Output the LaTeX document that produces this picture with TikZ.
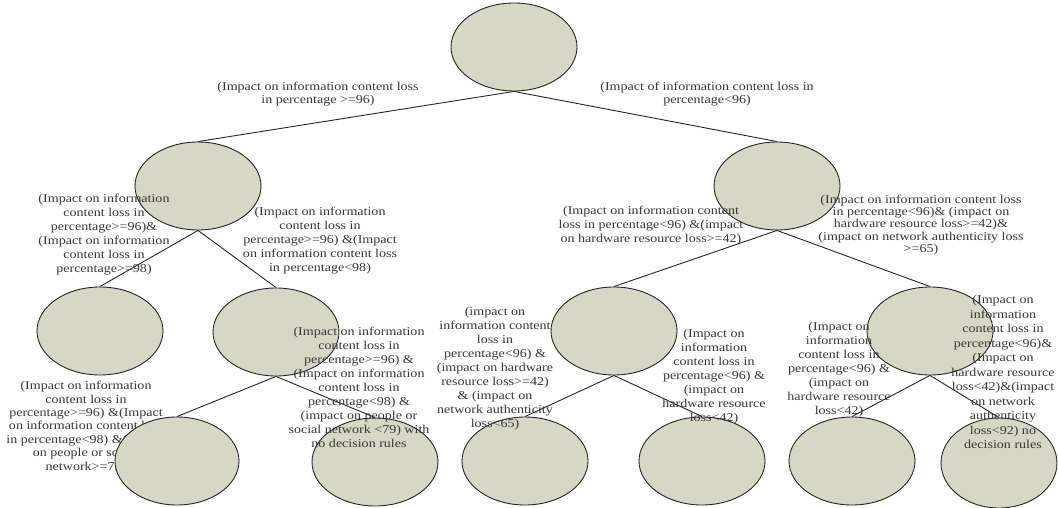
\documentclass[tikz,border=0pt]{standalone}
\usepackage{fontspec}
\setmainfont{Liberation Serif}[FakeStretch=1.17]
\usetikzlibrary{shapes.geometric}
\definecolor{efill}{RGB}{215,215,197}
\definecolor{txt}{RGB}{55,55,55}
\tikzset{
  leaf/.style={ellipse, draw=black!85, line width=0.9pt, fill=efill, minimum width=126pt, minimum height=88pt, inner sep=0pt},
  lbl/.style={align=center, text=txt, font=\fontsize{12}{14}\selectfont, inner sep=0pt},
  lbltight/.style={lbl, font=\fontsize{12}{12.8}\selectfont},
  edge/.style={draw=black!85, line width=0.9pt}
}
\begin{document}
\begin{tikzpicture}[x=1pt,y=-1pt]
\useasboundingbox (0,0) rectangle (1058,508);
% label partly hidden behind an ellipse
\node[lbl, font=\fontsize{12}{13.4}\selectfont] (t7) at (86,427) {(Impact on information\\content loss in\\percentage>=96) \&(Impact\\on information content loss\\in percentage<98) \&(impact\\on people or social\\network>=79)};
% ellipses
\node[leaf] (root) at (514,47) {};
\node[leaf] (a) at (198,186) {};
\node[leaf] (b) at (777,186) {};
\node[leaf] (aa) at (100,331) {};
\node[leaf] (ab) at (276,332) {};
\node[leaf] (ba) at (614,331) {};
\node[leaf] (bb) at (930,331) {};
\node[leaf, minimum width=124pt] (aba) at (177,461) {};
\node[leaf] (abb) at (375,462) {};
\node[leaf] (baa) at (525,461) {};
\node[leaf] (bab) at (702,461) {};
\node[leaf] (bba) at (852,461) {};
\node[leaf, minimum width=116pt, minimum height=90pt] (bbb) at (999,463) {};
% connectors
\draw[edge] (root.south) -- (a.north);
\draw[edge] (root.south) -- (b.north);
\draw[edge] (a.south) -- (aa.north);
\draw[edge] (a.south) -- (ab.north);
\draw[edge] (ab.south) -- (aba.north);
\draw[edge] (ab.south) -- (abb.north);
\draw[edge] (b.south) -- (ba.north);
\draw[edge] (b.south) -- (bb.north);
\draw[edge] (ba.south) -- (baa.north);
\draw[edge] (ba.south) -- (bab.north);
\draw[edge] (bb.south) -- (bba.north);
\draw[edge] (bb.south) -- (bbb.north);
% labels
\node[lbltight] (t1) at (318,94) {(Impact on information content loss\\in percentage >=96)};
\node[lbltight] (t2) at (707,94) {(Impact of information content loss in\\percentage<96)};
\node[lbl] (t3) at (104,235) {(Impact on information\\content loss in\\percentage>=96)\&\\(Impact on information\\content loss in\\percentage>=98)};
\node[lbl] (t4) at (320,241) {(Impact on information\\content loss in\\percentage>=96) \&(Impact\\on information content loss\\in percentage<98)};
\node[lbl] (t5) at (651,226) {(Impact on information content\\loss in percentage<96) \&(impact\\on hardware resource loss>=42)};
\node[lbl, font=\fontsize{12}{12.2}\selectfont] (t6) at (921,225) {(Impact on information content loss\\in percentage<96)\& (impact on\\hardware resource loss>=42)\&\\(impact on network authenticity loss\\>=65)};
\node[lbl] (t8) at (359,387) {(Impact on information\\content loss in\\percentage>=96) \&\\(Impact on information\\content loss in\\percentage<98) \&\\(impact on people or\\social network <79) with\\no decision rules};
\node[lbl] (t9) at (495,369) {(impact on\\information content\\loss in\\percentage<96) \&\\(impact on hardware\\resource loss>=42)\\\& (impact on\\network authenticity\\loss<65)};
\node[lbl] (t10) at (714,377) {(Impact on\\information\\content loss in\\percentage<96) \&\\(impact on\\hardware resource\\loss<42)};
\node[lbl] (t11) at (839,370) {(Impact on\\information\\content loss in\\percentage<96) \&\\(impact on\\hardware resource\\loss<42)};
\node[lbl, font=\fontsize{12}{14.5}\selectfont] (t12) at (1003,372) {(Impact on\\information\\content loss in\\percentage<96)\&\\(Impact on\\hardware resource\\loss<42)\&(impact\\on network\\authenticity\\loss<92) no\\decision rules};
\end{tikzpicture}
\end{document}
